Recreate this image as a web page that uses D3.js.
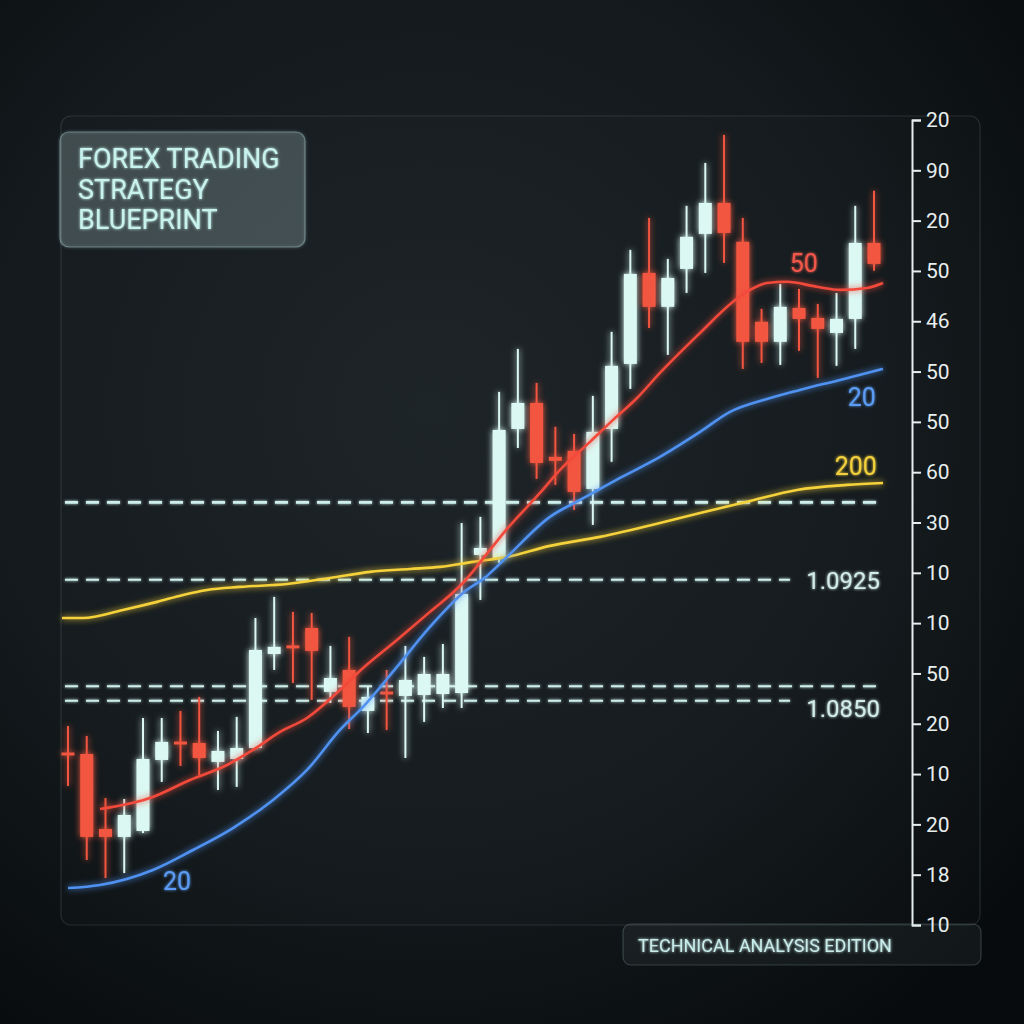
<!DOCTYPE html>
<html>
<head>
<meta charset="utf-8">
<script src="https://cdn.jsdelivr.net/npm/d3@7"></script>
<style>
  html, body { margin: 0; padding: 0; background: #0d1114; }
  svg { display: block; }
</style>
</head>
<body>
<svg id="chart" width="1024" height="1024"></svg>
<script>
// candle prices, one entry per session
const opens  = [1.08170, 1.08170, 1.07705, 1.07656, 1.07693, 1.08133, 1.08238, 1.08238, 1.08121, 1.08139, 1.08207, 1.08790, 1.08834, 1.08951, 1.08555, 1.08691, 1.08437, 1.08548, 1.08530, 1.08536, 1.08542, 1.08548, 1.09404, 1.09385, 1.10185, 1.10346, 1.10012, 1.10049, 1.09813, 1.10185, 1.10588, 1.11152, 1.10942, 1.11177, 1.11394, 1.11586, 1.11345, 1.10849, 1.10725, 1.10935, 1.10873, 1.10780, 1.10867, 1.11338];
const highs  = [1.08344, 1.08282, 1.07897, 1.07891, 1.08393, 1.08393, 1.08437, 1.08524, 1.08313, 1.08400, 1.09013, 1.09144, 1.09051, 1.09044, 1.08840, 1.08896, 1.08586, 1.08691, 1.08840, 1.08772, 1.08852, 1.09602, 1.09640, 1.10415, 1.10681, 1.10470, 1.10198, 1.10154, 1.10390, 1.10787, 1.11295, 1.11493, 1.11239, 1.11568, 1.11834, 1.12008, 1.11493, 1.10929, 1.11084, 1.11053, 1.10960, 1.11028, 1.11568, 1.11661];
const lows   = [1.07972, 1.07513, 1.07401, 1.07432, 1.07680, 1.07997, 1.08096, 1.08040, 1.07947, 1.07966, 1.08201, 1.08691, 1.08610, 1.08505, 1.08486, 1.08325, 1.08300, 1.08319, 1.08145, 1.08369, 1.08455, 1.08455, 1.09125, 1.09354, 1.10067, 1.09875, 1.09838, 1.09683, 1.09590, 1.09981, 1.10433, 1.10811, 1.10644, 1.11028, 1.11152, 1.11214, 1.10557, 1.10594, 1.10582, 1.10669, 1.10501, 1.10576, 1.10681, 1.11165];
const closes = [1.08158, 1.07656, 1.07656, 1.07792, 1.08139, 1.08245, 1.08220, 1.08145, 1.08189, 1.08207, 1.08815, 1.08834, 1.08821, 1.08809, 1.08641, 1.08462, 1.08524, 1.08536, 1.08629, 1.08666, 1.08666, 1.09162, 1.09447, 1.10179, 1.10346, 1.09974, 1.09987, 1.09795, 1.10167, 1.10576, 1.11146, 1.10942, 1.11121, 1.11376, 1.11586, 1.11400, 1.10725, 1.10725, 1.10942, 1.10867, 1.10805, 1.10867, 1.11338, 1.11208];

// moving averages as [session, price]
const ma20 = [[0, 1.07339], [1.71, 1.07358], [4.53, 1.07451], [6.67, 1.07575], [8.80, 1.07711], [10.94, 1.07885], [12.75, 1.08071], [14.51, 1.08319], [15.74, 1.08462], [17.55, 1.08710], [19.31, 1.08958], [21.07, 1.09168], [22.35, 1.09274], [23.42, 1.09392], [25.71, 1.09640], [27.32, 1.09745], [29.45, 1.09881], [31.58, 1.10012], [33.72, 1.10167], [35.32, 1.10291], [37.29, 1.10371], [39.05, 1.10427], [41.19, 1.10489], [43.48, 1.10557]];
const ma50 = [[1.71, 1.07829], [4.53, 1.07904], [6.51, 1.08009], [8.48, 1.08102], [9.87, 1.08195], [11.31, 1.08307], [12.75, 1.08393], [14.51, 1.08567], [15.74, 1.08703], [17.55, 1.08877], [19.31, 1.09051], [21.07, 1.09230], [22.51, 1.09435], [23.42, 1.09565], [25.18, 1.09788], [26.25, 1.09931], [27.85, 1.10105], [29.08, 1.10241], [30.36, 1.10377], [31.58, 1.10532], [33.72, 1.10780], [35.48, 1.10973], [36.39, 1.11047], [37.29, 1.11090], [38.36, 1.11097], [39.96, 1.11066], [41.19, 1.11047], [42.63, 1.11059], [43.48, 1.11090]];
const ma200 = [[-0.32, 1.09013], [0.80, 1.09013], [2.93, 1.09063], [4.75, 1.09113], [6.14, 1.09156], [7.42, 1.09187], [9.18, 1.09206], [11.68, 1.09224], [13.98, 1.09261], [16.11, 1.09299], [18.25, 1.09317], [19.85, 1.09330], [21.61, 1.09361], [23.42, 1.09392], [25.71, 1.09460], [28.38, 1.09516], [31.58, 1.09602], [33.72, 1.09664], [36.22, 1.09733], [38.89, 1.09807], [41.56, 1.09838], [43.48, 1.09850]];

// horizontal levels: price, label ('' = no label)
const levelPrices = [1.0973, 1.0925, 1.0859, 1.0850];
const levelLabels = ['', '1.0925', '', '1.0850'];

// right axis labels, top to bottom (as printed)
const axisLabels = ['20', '90', '20', '50', '46', '50', '50', '60', '30', '10', '10', '50', '20', '10', '20', '18', '10'];

const maLabels = [
  { text: '50', t: 38.5, p: 1.1116, color: '#f2584a' },
  { text: '20', t: 41.6, p: 1.1033, color: '#5b9cf4' },
  { text: '20', t: 5.07, p: 1.0733, color: '#5b9cf4' },
  { text: '200', t: 40.9, p: 1.0990, color: '#f3d03c' }
];

const width = 1024, height = 1024;
const svg = d3.select('#chart');
const defs = svg.append('defs');

const bg = defs.append('radialGradient').attr('id', 'bg')
  .attr('cx', '42%').attr('cy', '40%').attr('r', '75%');
bg.append('stop').attr('offset', '0%').attr('stop-color', '#1c2327');
bg.append('stop').attr('offset', '60%').attr('stop-color', '#13191c');
bg.append('stop').attr('offset', '100%').attr('stop-color', '#080b0d');

// glow filters in user space so flat lines keep their glow
function glow(id, sd) {
  const f = defs.append('filter').attr('id', id)
    .attr('filterUnits', 'userSpaceOnUse')
    .attr('x', 0).attr('y', 0).attr('width', width).attr('height', height);
  f.append('feGaussianBlur').attr('in', 'SourceGraphic').attr('stdDeviation', sd).attr('result', 'b');
  const m = f.append('feMerge');
  m.append('feMergeNode').attr('in', 'b');
  m.append('feMergeNode').attr('in', 'SourceGraphic');
}
glow('glow', 3);
glow('glowSoft', 1.5);

svg.append('rect').attr('width', width).attr('height', height).attr('fill', 'url(#bg)');

// scales
const x = d3.scaleLinear().domain([0, opens.length - 1]).range([68, 874]);
const y = d3.scaleLinear().domain([1.0711, 1.1210]).range([925, 120]);

// chart panel
svg.append('rect')
  .attr('x', 61).attr('y', 116).attr('width', 919).attr('height', 809).attr('rx', 10)
  .attr('fill', 'rgba(255,255,255,0.012)')
  .attr('stroke', 'rgba(210,235,235,0.13)').attr('stroke-width', 1.2);

// title box
const title = svg.append('g');
title.append('rect')
  .attr('x', 60).attr('y', 132).attr('width', 245).attr('height', 115).attr('rx', 9)
  .attr('fill', 'rgba(190,225,225,0.13)')
  .attr('stroke', 'rgba(200,240,240,0.35)').attr('stroke-width', 1.2)
  .attr('filter', 'url(#glowSoft)');
title.selectAll('text')
  .data(['FOREX TRADING', 'STRATEGY', 'BLUEPRINT'])
  .join('text')
    .attr('x', 78)
    .attr('y', (d, i) => 168 + i * 30.5)
    .attr('fill', '#c8f2ee')
    .attr('font-family', 'Roboto, sans-serif')
    .attr('font-size', 27)
    .attr('filter', 'url(#glowSoft)')
    .text(d => d);

// dashed levels
const levels = svg.append('g');
levelPrices.forEach((p, i) => {
  const labelled = levelLabels[i] !== '';
  levels.append('line')
    .attr('x1', 65).attr('x2', labelled ? 790 : 880)
    .attr('y1', y(p)).attr('y2', y(p))
    .attr('stroke', '#cdeeea')
    .attr('stroke-width', i === 0 ? 2.6 : 2)
    .attr('stroke-dasharray', '13,8')
    .attr('filter', 'url(#glowSoft)');
  if (labelled) {
    levels.append('text')
      .attr('x', 880).attr('y', y(p) + (i === 3 ? 16 : 9))
      .attr('text-anchor', 'end')
      .attr('fill', '#d2ecea')
      .attr('font-family', 'Roboto, sans-serif')
      .attr('font-size', 24)
      .attr('filter', 'url(#glowSoft)')
      .text(levelLabels[i]);
  }
});

// candles
const bull = '#dbf8f3', bear = '#f2563f';
const candles = svg.append('g').selectAll('g')
  .data(d3.range(opens.length))
  .join('g')
    .attr('filter', 'url(#glow)');
candles.append('line')
  .attr('x1', i => x(i)).attr('x2', i => x(i))
  .attr('y1', i => y(highs[i])).attr('y2', i => y(lows[i]))
  .attr('stroke', i => closes[i] >= opens[i] ? bull : bear)
  .attr('stroke-width', 2);
candles.append('rect')
  .attr('x', i => x(i) - 6.5)
  .attr('width', 13)
  .attr('y', i => y(Math.max(opens[i], closes[i])) - (Math.abs(y(opens[i]) - y(closes[i])) < 3 ? 1.5 : 0))
  .attr('height', i => Math.max(3, Math.abs(y(opens[i]) - y(closes[i]))))
  .attr('fill', i => closes[i] >= opens[i] ? bull : bear);

// moving averages
const line = d3.line().x(d => x(d[0])).y(d => y(d[1])).curve(d3.curveMonotoneX);
[[ma200, '#f5d23a'], [ma20, '#4f92f2'], [ma50, '#f24a3b']].forEach(([data, color]) => {
  svg.append('path')
    .attr('d', line(data))
    .attr('fill', 'none')
    .attr('stroke', color)
    .attr('stroke-width', 2.6)
    .attr('filter', 'url(#glow)');
});

svg.append('g').selectAll('text')
  .data(maLabels)
  .join('text')
    .attr('x', d => x(d.t)).attr('y', d => y(d.p))
    .attr('fill', d => d.color)
    .attr('font-family', 'Roboto, sans-serif')
    .attr('font-size', 25)
    .attr('filter', 'url(#glowSoft)')
    .text(d => d.text);

// right axis
const step = (y.domain()[1] - y.domain()[0]) / (axisLabels.length - 1);
const tickVals = d3.range(axisLabels.length).map(i => y.domain()[1] - i * step);
const axis = d3.axisRight(y)
  .tickValues(tickVals)
  .tickFormat((d, i) => axisLabels[i])
  .tickSize(9)
  .tickPadding(5);
svg.append('g')
  .attr('transform', 'translate(912,0)')
  .call(axis)
  .call(g => g.select('.domain').attr('stroke', '#e6eeee').attr('stroke-width', 2))
  .call(g => g.selectAll('.tick line').attr('stroke', '#e6eeee').attr('stroke-width', 2))
  .call(g => g.selectAll('.tick text')
    .attr('fill', '#e8eeee')
    .attr('font-family', 'Roboto, sans-serif')
    .attr('font-size', 21));

// footer tag
const tag = svg.append('g');
tag.append('rect')
  .attr('x', 623).attr('y', 924).attr('width', 358).attr('height', 41).attr('rx', 8)
  .attr('fill', 'rgba(190,225,225,0.06)')
  .attr('stroke', 'rgba(200,235,235,0.2)').attr('stroke-width', 1.2);
tag.append('text')
  .attr('x', 638).attr('y', 952)
  .attr('fill', '#c8ecea')
  .attr('font-family', 'Roboto, sans-serif')
  .attr('font-size', 18)
  .attr('filter', 'url(#glowSoft)')
  .text('TECHNICAL ANALYSIS EDITION');
</script>
</body>
</html>
